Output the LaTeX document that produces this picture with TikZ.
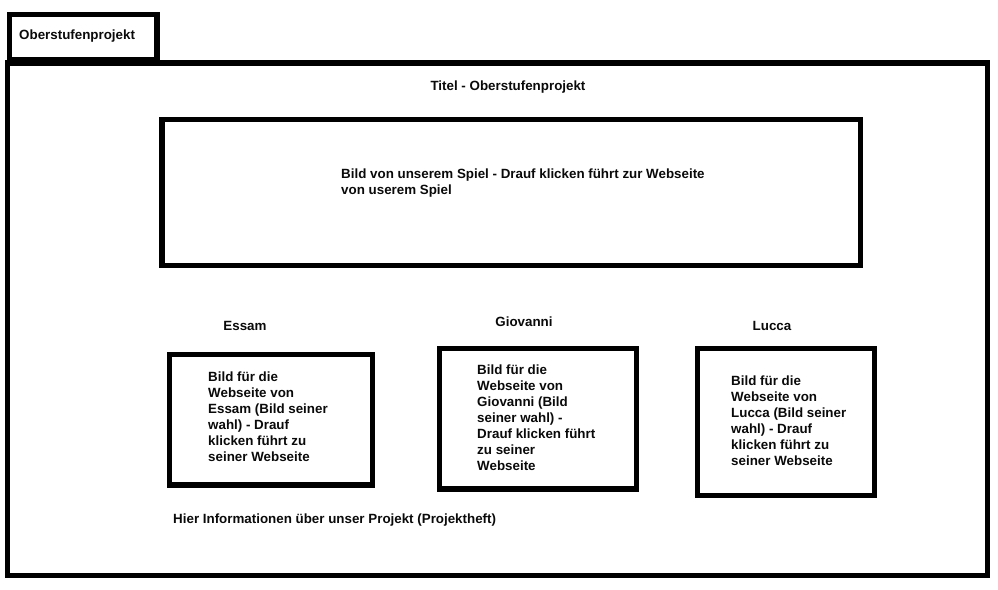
\documentclass[tikz,border=0pt]{standalone}
\usepackage{fontspec}
\setmainfont{Liberation Sans}
\definecolor{cframe}{RGB}{0,0,0}
\definecolor{ctext}{RGB}{10,10,10}

\begin{document}
\begin{tikzpicture}[x=0.03cm, y=-0.03cm,
  frame/.style={draw=cframe, line width=4.3pt},
  label/.style={font=\fontsize{11.4}{13.6}\selectfont\bfseries, text=ctext, inner sep=0pt},
  boxtext/.style={label, align=left, anchor=north west}]
\useasboundingbox (0,0) rectangle (998,590);
\fill[white] (0,0) rectangle (998,590);
\draw[frame] (9.5,14.5) rectangle (157,60);
\draw[frame] (7.5,63) rectangle (987.5,575.5);
\draw[frame] (162,119.5) rectangle (860.5,265.5);
\draw[frame] (169.5,354.5) rectangle (372.5,485);
\draw[frame] (439.5,348.5) rectangle (636.5,489);
\draw[frame] (697.5,348.5) rectangle (874.5,495.5);
\node[label, anchor=west] (tab) at (19,36) {Oberstufenprojekt};
\node[label] (titel) at (508,87) {Titel - Oberstufenprojekt};
\node[boxtext] (spiel) at (341,168.5)
  {Bild von unserem Spiel - Drauf klicken führt zur Webseite\\von userem Spiel};
\node[label] (essam) at (245,326) {Essam};
\node[label] (giovanni) at (524,322) {Giovanni};
\node[label] (lucca) at (772,326) {Lucca};
\node[boxtext] (essambild) at (208,371.5)
  {Bild für die\\Webseite von\\Essam (Bild seiner\\wahl) - Drauf\\klicken führt zu\\seiner Webseite};
\node[boxtext] (giovannibild) at (477,364.5)
  {Bild für die\\Webseite von\\Giovanni (Bild\\seiner wahl) -\\Drauf klicken führt\\zu seiner\\Webseite};
\node[boxtext] (luccabild) at (731,375.5)
  {Bild für die\\Webseite von\\Lucca (Bild seiner\\wahl) - Drauf\\klicken führt zu\\seiner Webseite};
\node[label, anchor=west] (info) at (173,520)
  {Hier Informationen über unser Projekt (Projektheft)};
\end{tikzpicture}
\end{document}
